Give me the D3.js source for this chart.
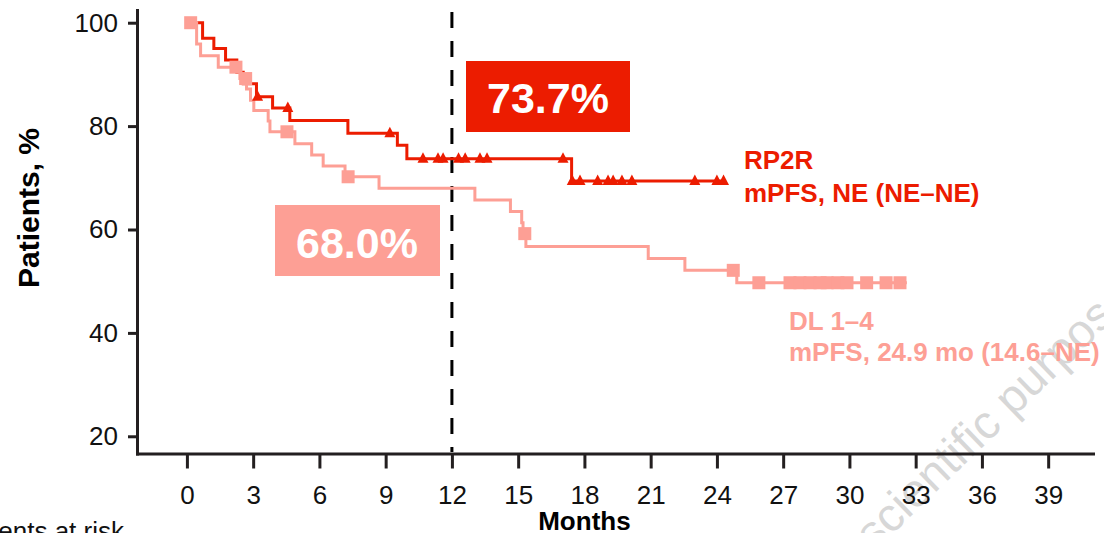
<!DOCTYPE html>
<html lang="en">
<head>
<meta charset="utf-8">
<script src="https://cdn.jsdelivr.net/npm/d3@7"></script>
<style>
    body { margin: 0; background: #fff; }
    svg text { font-family: Arial, "Liberation Sans", Helvetica, sans-serif; }
</style>
</head>
<body>
<div id="chart"></div>
<script>

    // RP2R arm: event times (months) and survival (%) after each step
    const rp2rTimes = [0, 0.71, 1.22, 1.75, 2.26, 2.55, 3.15, 3.88, 4.66, 7.29, 9.53, 9.96, 17.42, 24.35];
    const rp2rSurv  = [100, 97.0, 95.0, 92.8, 90.4, 88.2, 85.7, 83.5, 81.1, 78.6, 76.3, 73.7, 69.4, 69.4];
    const rp2rCensor = [3.2, 4.57, 9.19, 10.69, 11.37, 11.6, 12.3, 12.6, 13.27, 13.59, 17.03,
                        17.45, 17.8, 18.6, 19.07, 19.3, 19.7, 20.15, 23.0, 24.0, 24.3];

    // DL 1-4 arm
    const dlTimes = [0, 0.44, 0.62, 1.42, 2.4, 2.7, 2.88, 3.03, 3.68, 3.76, 4.89, 5.65, 6.17, 7.16,
                     8.7, 13.04, 14.65, 15.16, 15.22, 15.35, 20.89, 22.55, 24.9, 32.6];
    const dlSurv  = [100, 95.9, 93.6, 91.4, 89.2, 87.2, 85.0, 83.0, 81.0, 78.9, 76.6, 74.4, 72.3, 70.2,
                     68.0, 65.7, 63.5, 61.3, 59.2, 56.7, 54.4, 52.1, 49.7, 49.7];
    const dlCensor = [0.17, 2.22, 2.66, 4.53, 7.3, 15.3, 24.74, 25.9, 27.31, 27.76, 28.22, 28.67,
                      28.99, 29.48, 29.89, 30.78, 31.66, 32.29];

    const monthTicks = [0, 3, 6, 9, 12, 15, 18, 21, 24, 27, 30, 33, 36, 39];
    const pctTicks = [20, 40, 60, 80, 100];

    const landmark = 12;
    const rp2rLandmark = "73.7%";
    const dlLandmark = "68.0%";
    const rp2rLabel = ["RP2R", "mPFS, NE (NE\u2013NE)"];
    const dlLabel = ["DL 1\u20134", "mPFS, 24.9 mo (14.6\u2013NE)"];

    const red = "#ec1c00", pink = "#fd9f95";
    const width = 1104, height = 533;

    const svg = d3.select("#chart")
        .append("svg")
        .attr("width", width)
        .attr("height", height);

    const x = d3.scaleLinear().domain([-2.26, 41.03]).range([137, 1093]);
    const y = d3.scaleLinear().domain([16.67, 102.46]).range([453.5, 10]);

    // watermark (behind everything)
    const wm = svg.append("g")
        .attr("transform", "translate(874,552) rotate(-44)")
        .attr("fill", "#bdbdbd")
        .attr("fill-opacity", 0.6)
        .style("font-size", "47px");
    wm.append("text").attr("text-anchor", "end").text("For ");
    wm.append("text").attr("text-anchor", "start").text("scientific purposes only");

    // axes
    const xAxis = svg.append("g")
        .attr("transform", `translate(0,${y(16.67)})`)
        .call(d3.axisBottom(x).tickValues(monthTicks).tickSize(15).tickSizeOuter(0).tickPadding(17));

    const yAxis = svg.append("g")
        .attr("transform", `translate(${x(-2.26)},0)`)
        .call(d3.axisLeft(y).tickValues(pctTicks).tickSize(9).tickSizeOuter(0).tickPadding(10));

    [xAxis, yAxis].forEach(g => {
        g.attr("font-family", null).attr("font-size", null);
        g.select(".domain").attr("stroke", "#231f20").attr("stroke-width", 3).attr("stroke-linecap", "square");
        g.selectAll(".tick line").attr("stroke", "#231f20").attr("stroke-width", 3);
        g.selectAll(".tick text").attr("fill", "#111").style("font-size", "26px");
    });

    svg.append("text")
        .attr("x", x(18))
        .attr("y", 530)
        .attr("text-anchor", "middle")
        .style("font-size", "26px")
        .style("font-weight", "bold")
        .text("Months");

    svg.append("text")
        .attr("transform", `translate(39,208) rotate(-90)`)
        .attr("text-anchor", "middle")
        .style("font-size", "30px")
        .style("font-weight", "bold")
        .text("Patients, %");

    svg.append("text")
        .attr("x", 124)
        .attr("y", 540)
        .attr("text-anchor", "end")
        .style("font-size", "26px")
        .attr("fill", "#111")
        .text("Patients at risk");

    // 12-month landmark
    svg.append("line")
        .attr("x1", x(landmark)).attr("x2", x(landmark))
        .attr("y1", 12).attr("y2", 452)
        .attr("stroke", "#000")
        .attr("stroke-width", 3)
        .attr("stroke-dasharray", "16,13");

    const line = d3.line()
        .x(d => x(d[0]))
        .y(d => y(d[1]))
        .curve(d3.curveStepAfter);

    function survAt(times, surv, t) {
        return surv[Math.max(0, d3.bisectRight(times, t) - 1)];
    }

    // curves
    svg.append("path")
        .datum(rp2rTimes.map((t, i) => [t, rp2rSurv[i]]))
        .attr("fill", "none")
        .attr("stroke", red)
        .attr("stroke-width", 3)
        .attr("d", line);

    svg.append("path")
        .datum(dlTimes.map((t, i) => [t, dlSurv[i]]))
        .attr("fill", "none")
        .attr("stroke", pink)
        .attr("stroke-width", 3)
        .attr("d", line);

    svg.selectAll("rect.dl")
        .data(dlCensor)
        .enter()
        .append("rect")
        .attr("class", "dl")
        .attr("x", d => x(d) - 6.5)
        .attr("y", d => y(survAt(dlTimes, dlSurv, d)) - 6.5)
        .attr("width", 13)
        .attr("height", 13)
        .attr("fill", pink);

    svg.selectAll("path.rp2r")
        .data(rp2rCensor)
        .enter()
        .append("path")
        .attr("class", "rp2r")
        .attr("transform", d => `translate(${x(d)},${y(survAt(rp2rTimes, rp2rSurv, d))})`)
        .attr("d", "M-5.5,4L0,-6.5L5.5,4Z")
        .attr("fill", red);

    // landmark boxes
    svg.append("rect").attr("x", 466).attr("y", 61).attr("width", 164).attr("height", 71).attr("fill", red);
    svg.append("text")
        .attr("x", 548).attr("y", 113)
        .attr("text-anchor", "middle")
        .attr("fill", "#fff")
        .style("font-size", "43px")
        .style("font-weight", "bold")
        .text(rp2rLandmark);

    svg.append("rect").attr("x", 275).attr("y", 205).attr("width", 165).attr("height", 71).attr("fill", pink);
    svg.append("text")
        .attr("x", 357).attr("y", 258)
        .attr("text-anchor", "middle")
        .attr("fill", "#fff")
        .style("font-size", "43px")
        .style("font-weight", "bold")
        .text(dlLandmark);

    // arm labels
    rp2rLabel.forEach((s, i) => {
        svg.append("text")
            .attr("x", 744).attr("y", 169 + i * 32.5)
            .attr("fill", red)
            .style("font-size", "26px")
            .style("font-weight", "bold")
            .text(s);
    });
    dlLabel.forEach((s, i) => {
        svg.append("text")
            .attr("x", 789).attr("y", 330 + i * 30.5)
            .attr("fill", pink)
            .style("font-size", "26px")
            .style("font-weight", "bold")
            .text(s);
    });

</script>
</body>
</html>
